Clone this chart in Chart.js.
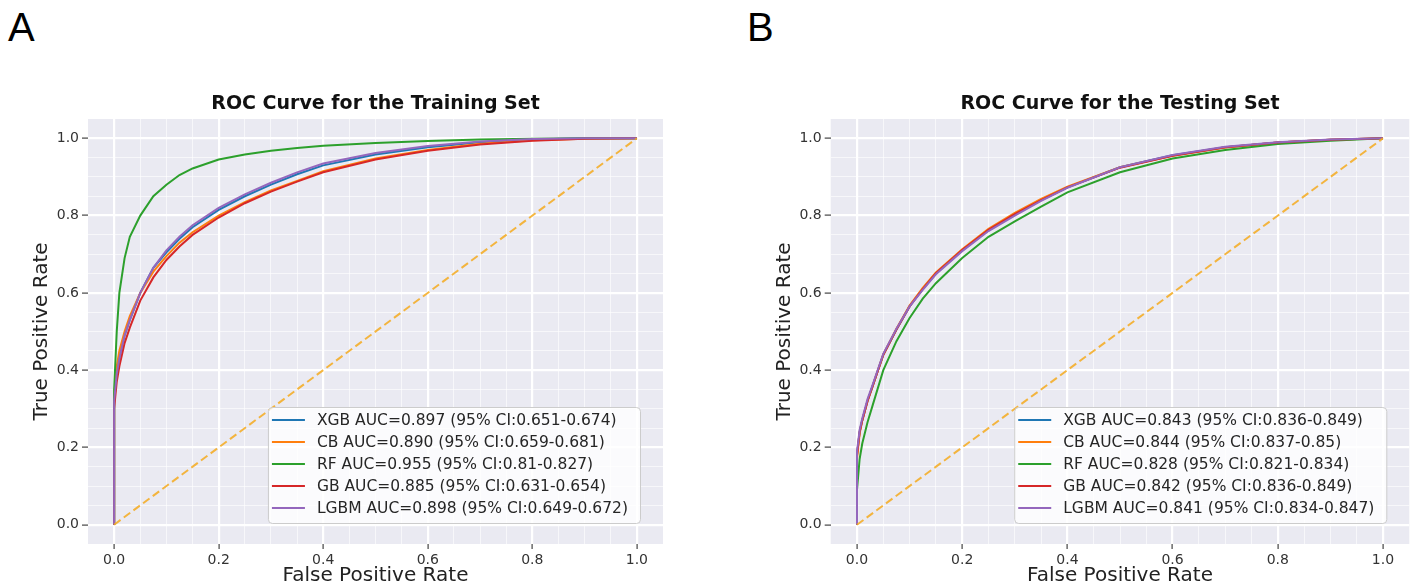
<!DOCTYPE html>
<html>
<head>
<meta charset="utf-8">
<title>ROC Curves</title>
<script src="https://cdn.jsdelivr.net/npm/chart.js@4.4.1/dist/chart.umd.min.js"></script>
<style>
  body { margin: 0; background: #fff; width: 1417px; height: 588px; overflow: hidden; position: relative; }
  .panel { position: absolute; top: 0; height: 588px; }
  .letter { position: absolute; top: 4px; font-family: "Liberation Sans", Arial, sans-serif; font-size: 40px; line-height: 46px; color: #000; }
</style>
</head>
<body>
<div class="letter" style="left:8px">A</div>
<div class="letter" style="left:747px">B</div>
<div class="panel" style="left:0;width:700px"><canvas id="trainChart" width="700" height="588"></canvas></div>
<div class="panel" style="left:740px;width:677px"><canvas id="testChart" width="677" height="588"></canvas></div>
<script>
// model names and colours (matplotlib tab10)
const models = ['XGB', 'CB', 'RF', 'GB', 'LGBM'];
const modelColors = ['#1f77b4', '#ff7f0e', '#2ca02c', '#d62728', '#9467bd'];

const trainLabels = [
    'XGB AUC=0.897 (95% CI:0.651-0.674)',
    'CB AUC=0.890 (95% CI:0.659-0.681)',
    'RF AUC=0.955 (95% CI:0.81-0.827)',
    'GB AUC=0.885 (95% CI:0.631-0.654)',
    'LGBM AUC=0.898 (95% CI:0.649-0.672)'
];
const testLabels = [
    'XGB AUC=0.843 (95% CI:0.836-0.849)',
    'CB AUC=0.844 (95% CI:0.837-0.85)',
    'RF AUC=0.828 (95% CI:0.821-0.834)',
    'GB AUC=0.842 (95% CI:0.836-0.849)',
    'LGBM AUC=0.841 (95% CI:0.834-0.847)'
];

// Training set ROC (false positive rate -> true positive rate)
const trainFpr  = [0, 0, 0.005, 0.01, 0.02, 0.03, 0.05, 0.075, 0.1, 0.125, 0.15, 0.2, 0.25, 0.3, 0.35, 0.4, 0.5, 0.6, 0.7, 0.8, 0.9, 1.0];
const trainXgb  = [0, 0.32, 0.39, 0.43, 0.49, 0.53, 0.6, 0.665, 0.705, 0.74, 0.77, 0.815, 0.85, 0.88, 0.907, 0.93, 0.958, 0.977, 0.99, 0.997, 1.0, 1.0];
const trainCb   = [0, 0.33, 0.41, 0.45, 0.5, 0.54, 0.6, 0.655, 0.695, 0.73, 0.757, 0.8, 0.835, 0.865, 0.89, 0.915, 0.948, 0.97, 0.986, 0.995, 0.999, 1.0];
const trainRf   = [0, 0.35, 0.5, 0.6, 0.69, 0.745, 0.8, 0.85, 0.88, 0.905, 0.922, 0.945, 0.958, 0.968, 0.975, 0.981, 0.988, 0.993, 0.997, 0.999, 1.0, 1.0];
const trainGb   = [0, 0.3, 0.37, 0.41, 0.47, 0.51, 0.58, 0.64, 0.685, 0.72, 0.75, 0.795, 0.832, 0.862, 0.888, 0.912, 0.945, 0.968, 0.984, 0.994, 0.999, 1.0];
const trainLgbm = [0, 0.32, 0.39, 0.43, 0.49, 0.53, 0.6, 0.665, 0.71, 0.745, 0.775, 0.82, 0.855, 0.885, 0.912, 0.935, 0.962, 0.98, 0.992, 0.998, 1.0, 1.0];

// Testing set ROC
const testFpr  = [0, 0, 0.005, 0.01, 0.02, 0.03, 0.05, 0.075, 0.1, 0.125, 0.15, 0.2, 0.25, 0.3, 0.35, 0.4, 0.5, 0.6, 0.7, 0.8, 0.9, 1.0];
const testXgb  = [0, 0.18, 0.24, 0.27, 0.32, 0.36, 0.44, 0.505, 0.565, 0.61, 0.65, 0.71, 0.762, 0.803, 0.84, 0.873, 0.925, 0.956, 0.977, 0.989, 0.996, 1.0];
const testCb   = [0, 0.17, 0.235, 0.27, 0.32, 0.36, 0.44, 0.507, 0.567, 0.613, 0.653, 0.713, 0.766, 0.807, 0.843, 0.875, 0.925, 0.955, 0.976, 0.989, 0.996, 1.0];
const testRf   = [0, 0.09, 0.17, 0.21, 0.265, 0.31, 0.4, 0.475, 0.535, 0.585, 0.625, 0.69, 0.745, 0.785, 0.823, 0.86, 0.912, 0.948, 0.97, 0.985, 0.994, 1.0];
const testGb   = [0, 0.18, 0.24, 0.27, 0.32, 0.36, 0.44, 0.505, 0.565, 0.61, 0.651, 0.711, 0.763, 0.804, 0.84, 0.873, 0.924, 0.955, 0.977, 0.989, 0.996, 1.0];
const testLgbm = [0, 0.19, 0.245, 0.275, 0.325, 0.363, 0.442, 0.507, 0.565, 0.608, 0.648, 0.708, 0.76, 0.8, 0.838, 0.872, 0.925, 0.957, 0.978, 0.99, 0.997, 1.0];

// chance line
const diagX = [0, 1];
const diagY = [0, 1];

// axes
const majorTicks = [0, 0.2, 0.4, 0.6, 0.8, 1.0];
const tickLabels = ['0.0', '0.2', '0.4', '0.6', '0.8', '1.0'];
const axisMin = -0.05;
const axisMax = 1.05;
const minorStep = 0.05;

Chart.defaults.font.family = '"DejaVu Sans", sans-serif';

const gridValues = [];
for (let i = 0; i * minorStep <= 1.0001; i++) gridValues.push(+(i * minorStep).toFixed(2));

const isMajor = v => majorTicks.some(m => Math.abs(m - v) < 1e-9);

// seaborn style grey panel
const panelBg = {
    id: 'panelBg',
    beforeDraw(chart) {
        const { ctx, chartArea: a } = chart;
        ctx.save();
        ctx.fillStyle = '#eaeaf2';
        ctx.fillRect(a.left, a.top, a.right - a.left, a.bottom - a.top);
        ctx.restore();
    }
};

// legend box in the lower right of the axes
const legendBox = {
    id: 'legendBox',
    afterDatasetsDraw(chart) {
        const { ctx, chartArea } = chart;
        const items = chart.data.datasets.filter(d => d.inLegend);
        ctx.save();
        ctx.font = '15.5px "DejaVu Sans"';
        const textW = Math.max(...items.map(d => ctx.measureText(d.label).width));
        const rowH = 22;
        const w = 49 + textW + 12;
        const h = items.length * rowH + 6;
        const right = chartArea.right - 23;
        const bottom = chartArea.bottom - 21;
        const left = right - w;
        const top = bottom - h;
        ctx.fillStyle = 'rgba(255,255,255,0.8)';
        ctx.strokeStyle = '#cccccc';
        ctx.lineWidth = 1;
        ctx.beginPath();
        ctx.roundRect(left + 0.5, top + 0.5, w, h, 4);
        ctx.fill();
        ctx.stroke();
        items.forEach((d, i) => {
            const y = top + 13 + i * rowH;
            ctx.strokeStyle = d.borderColor;
            ctx.lineWidth = 2;
            ctx.beginPath();
            ctx.moveTo(left + 4, y);
            ctx.lineTo(left + 37, y);
            ctx.stroke();
            ctx.fillStyle = '#262626';
            ctx.textBaseline = 'middle';
            ctx.fillText(d.label, left + 49, y + 1);
        });
        ctx.restore();
    }
};

function axisOptions(titleText, isX, fit, titlePad) {
    return {
        type: 'linear',
        min: axisMin,
        max: axisMax,
        afterBuildTicks: scale => { scale.ticks = gridValues.map(v => ({ value: v })); },
        afterFit: scale => { if (isX) scale.height = fit; else scale.width = fit; },
        border: { display: false },
        grid: {
            color: c => isMajor(c.tick.value) ? '#ffffff' : 'rgba(255,255,255,0.6)',
            lineWidth: c => isMajor(c.tick.value) ? 2.2 : 1,
            tickColor: c => isMajor(c.tick.value) ? '#444444' : 'rgba(0,0,0,0)',
            tickWidth: 1.2,
            tickLength: isX ? 5 : 6
        },
        ticks: {
            autoSkip: false,
            maxRotation: 0,
            padding: 3,
            color: '#333333',
            font: { size: 14 },
            callback: value => {
                const i = majorTicks.findIndex(m => Math.abs(m - value) < 1e-9);
                return i >= 0 ? tickLabels[i] : '';
            }
        },
        title: {
            display: true,
            text: titleText,
            color: '#222222',
            font: { size: 20 },
            padding: isX ? { top: 0, bottom: 0 } : { top: titlePad, bottom: 0 }
        }
    };
}

function makeRocChart(canvasId, titleText, fpr, series, labels, layout) {
    const datasets = series.map((tpr, i) => ({
        label: labels[i],
        data: fpr.map((x, j) => ({ x: x, y: tpr[j] })),
        borderColor: modelColors[i],
        borderWidth: 2,
        pointRadius: 0,
        tension: 0,
        fill: false,
        inLegend: true,
        order: series.length - i
    }));
    datasets.push({
        label: 'chance',
        data: diagX.map((x, j) => ({ x: x, y: diagY[j] })),
        borderColor: 'rgba(245,170,30,0.85)',
        borderWidth: 2,
        borderDash: [8, 4],
        pointRadius: 0,
        fill: false,
        inLegend: false,
        order: 0
    });

    return new Chart(document.getElementById(canvasId), {
        type: 'line',
        data: { datasets },
        options: {
            responsive: false,
            animation: false,
            events: [],
            layout: { padding: { top: 92.6, right: layout.padRight, bottom: 0, left: 0 } },
            plugins: {
                legend: { display: false },
                tooltip: { enabled: false },
                title: {
                    display: true,
                    text: titleText,
                    fullSize: false,
                    color: '#111111',
                    font: { size: 19, weight: 'bold' },
                    padding: { top: 0, bottom: 3.6 }
                }
            },
            scales: {
                x: axisOptions('False Positive Rate', true, 44, 0),
                y: axisOptions('True Positive Rate', false, layout.yAxisWidth, layout.yTitlePad)
            }
        },
        plugins: [panelBg, legendBox]
    });
}

makeRocChart('trainChart', 'ROC Curve for the Training Set', trainFpr,
    [trainXgb, trainCb, trainRf, trainGb, trainLgbm], trainLabels,
    { yAxisWidth: 88, padRight: 37, yTitlePad: 30 });

makeRocChart('testChart', 'ROC Curve for the Testing Set', testFpr,
    [testXgb, testCb, testRf, testGb, testLgbm], testLabels,
    { yAxisWidth: 90.7, padRight: 7.7, yTitlePad: 33 });
</script>
</body>
</html>
